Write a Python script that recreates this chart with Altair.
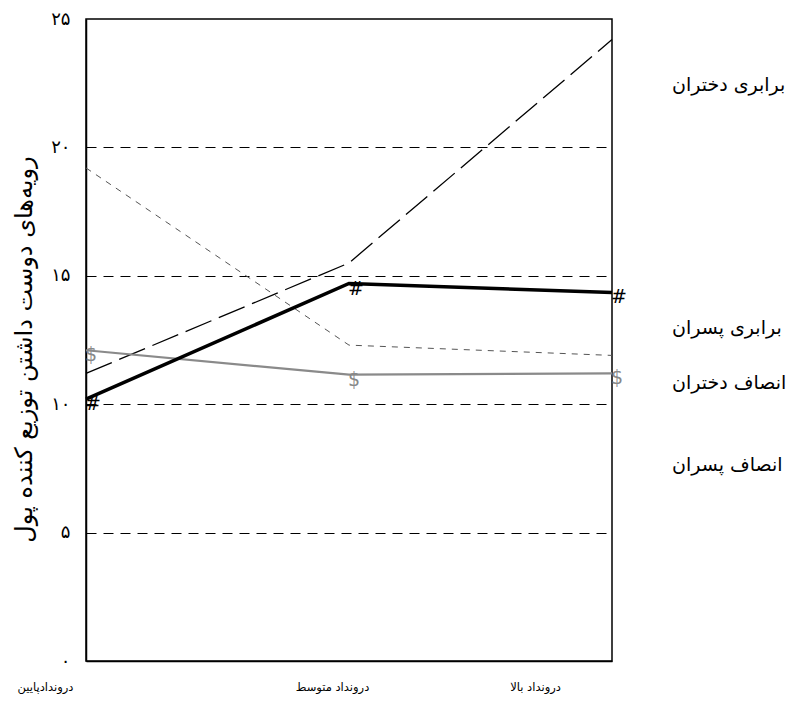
import altair as alt
import pandas as pd

categories = ["دروندادپایین", "درونداد متوسط", "درونداد بالا"]
series_names = ["برابری دختران", "برابری پسران", "انصاف دختران", "انصاف پسران"]
equality_girls = [11.2, 15.5, 24.2]
equality_boys = [10.2, 14.7, 14.35]
fairness_girls = [12.1, 11.15, 11.2]
fairness_boys = [19.2, 12.3, 11.9]
y_ticks = [0, 5, 10, 15, 20, 25]
y_tick_labels = ["۰", "۵", "۱۰", "۱۵", "۲۰", "۲۵"]
y_title = "رویه‌های دوست داشتن توزیع کننده پول"
label_offsets_px = [66, 309, 364, 446]
x_label_shift = [-41, -17, -77]

rows = []
for name, vals in zip(series_names, [equality_girls, equality_boys, fairness_girls, fairness_boys]):
    for c, v in zip(categories, vals):
        rows.append({"cat": c, "value": v, "series": name})
df = pd.DataFrame(rows)

W, H = 526, 642
FONT = "DejaVu Sans"

label_expr = " : ".join(
    f"datum.value == {v} ? '{l}'" for v, l in zip(y_ticks, y_tick_labels)
) + " : ''"

offset_cond = {
    "condition": [
        {"test": f"datum.value == '{c}'", "value": s} for c, s in zip(categories, x_label_shift)
    ],
    "value": 0,
}
grid_op = {
    "condition": {"test": f"datum.value == {y_ticks[0]} || datum.value == {y_ticks[-1]}", "value": 0},
    "value": 1,
}

x_enc = alt.X(
    "cat:N",
    sort=categories,
    scale=alt.Scale(type="point", padding=0),
    axis=alt.Axis(
        title=None, ticks=False, grid=False, labelAngle=0,
        labelFont=FONT, labelFontSize=11.5, labelColor="black",
        labelPadding=20, labelOffset=offset_cond, domainColor="black", domainWidth=1.5,
    ),
)
y_enc = alt.Y(
    "value:Q",
    scale=alt.Scale(domain=[0, 25], nice=False, zero=True),
    axis=alt.Axis(
        values=y_ticks, labelExpr=label_expr, ticks=False,
        grid=True, gridDash=[10, 7], gridColor="black", gridWidth=1, gridOpacity=grid_op,
        labelFont=FONT, labelFontSize=18, labelColor="black", labelPadding=16,
        domainColor="black", domainWidth=1.5,
        title=y_title, titleFont=FONT, titleFontSize=24, titleFontWeight="normal",
        titleColor="black", titleX=-62, titleY=330, titleAngle=270,
        titleBaseline="middle", titleAlign="center",
    ),
)

base = alt.Chart(df)


def line(name, color, width, dash=None):
    kw = dict(color=color, strokeWidth=width)
    if dash:
        kw["strokeDash"] = dash
    return base.transform_filter(alt.datum.series == name).mark_line(**kw).encode(x=x_enc, y=y_enc)


l1 = line(series_names[0], "black", 1.3, [28, 8])
l4 = line(series_names[3], "#555555", 1.0, [6, 6])
l3 = line(series_names[2], "#8a8a8a", 2.2)
l2 = line(series_names[1], "black", 3.5)

m2 = base.transform_filter(alt.datum.series == series_names[1]).mark_text(
    text="#", fontSize=19, dx=7, dy=5, color="black", font=FONT
).encode(x=x_enc, y=y_enc)
m3 = base.transform_filter(alt.datum.series == series_names[2]).mark_text(
    text="$", fontSize=19, dx=5, dy=5, color="#888888", font=FONT
).encode(x=x_enc, y=y_enc)

label_layers = []
for lab, py in zip(series_names, label_offsets_px):
    label_layers.append(
        alt.Chart(pd.DataFrame({"label": [lab]})).mark_text(
            align="left", baseline="middle", fontSize=19, font=FONT, color="black"
        ).encode(x=alt.value(W + 60), y=alt.value(py), text="label:N")
    )

chart = alt.layer(l4, l1, l3, l2, m2, m3, *label_layers).properties(
    width=W, height=H, background="white",
    autosize=alt.AutoSizeParams(type="none"),
    padding={"left": 78, "top": 11, "right": 180, "bottom": 38},
).configure_view(stroke="black", strokeWidth=1.5)

chart.save("out.html", embed_options={"renderer": "svg", "actions": False})
